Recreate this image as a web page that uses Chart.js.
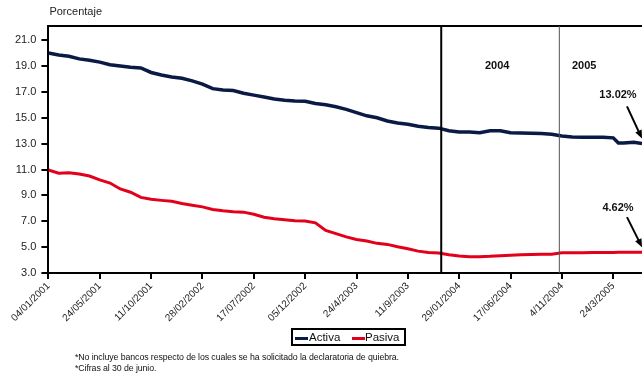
<!DOCTYPE html>
<html>
<head>
<meta charset="utf-8">
<script src="https://cdn.jsdelivr.net/npm/chart.js@4.4.1/dist/chart.umd.min.js"></script>
<style>
  html, body { margin: 0; padding: 0; background: #fff; }
  #wrap { position: relative; width: 642px; height: 375px; overflow: hidden; font-family: "Liberation Sans", Arial, sans-serif; }
  #chart { position: absolute; left: 0; top: 0; }
  .legend { position: absolute; left: 291px; top: 328px; width: 111px; height: 14px; border: 2px solid #000; font-size: 11.5px; color: #111; line-height: 14px; }
  .legend span { position: absolute; top: 0; }
  .legend i { position: absolute; top: 7px; height: 3px; width: 13px; }
  .notes { position: absolute; left: 75px; top: 352px; font-size: 8.8px; color: #111; line-height: 11px; letter-spacing: -0.1px; }
</style>
</head>
<body>
<div id="wrap">
  <canvas id="chart" width="642" height="375"></canvas>
  <div class="legend">
    <i style="left:2px;background:#0b1a45"></i><span style="left:16px">Activa</span>
    <i style="left:59px;background:#e3001b"></i><span style="left:72px">Pasiva</span>
  </div>
  <div class="notes">*No incluye bancos respecto de los cuales se ha solicitado la declaratoria de quiebra.<br>*Cifras al 30 de junio.</div>
</div>
<script>
// day index (100 = one label step) and rates
const dayIndex = [0, 20, 40, 60, 80, 100, 120, 140, 160, 180, 200, 220, 240, 260, 280, 300, 320, 340, 360, 380,
  400, 420, 440, 460, 480, 500, 520, 540, 560, 580, 600, 620, 640, 660, 680, 700, 720, 740, 760, 780,
  800, 820, 840, 860, 880, 900, 920, 940, 960, 980, 1000, 1020, 1040, 1060, 1080, 1100, 1110, 1120, 1140, 1156];

const activa = [20.0, 19.85, 19.75, 19.55, 19.45, 19.3, 19.1, 19.0, 18.9, 18.85, 18.5, 18.3, 18.15, 18.05, 17.85, 17.6, 17.25, 17.15, 17.1, 16.9,
  16.75, 16.6, 16.45, 16.35, 16.3, 16.27, 16.1, 16.0, 15.85, 15.65, 15.4, 15.15, 15.0, 14.75, 14.6, 14.5, 14.35, 14.25, 14.2, 14.0,
  13.9, 13.9, 13.85, 14.0, 14.0, 13.85, 13.82, 13.8, 13.78, 13.72, 13.6, 13.52, 13.5, 13.5, 13.5, 13.45, 13.05, 13.05, 13.1, 13.02];

const pasiva = [10.97, 10.72, 10.75, 10.65, 10.5, 10.2, 9.96, 9.5, 9.25, 8.85, 8.7, 8.62, 8.55, 8.38, 8.25, 8.12, 7.92, 7.81, 7.75, 7.71,
  7.55, 7.32, 7.2, 7.12, 7.05, 7.03, 6.88, 6.3, 6.05, 5.8, 5.6, 5.48, 5.3, 5.22, 5.04, 4.88, 4.7, 4.6, 4.56, 4.42,
  4.32, 4.27, 4.27, 4.3, 4.35, 4.38, 4.42, 4.44, 4.45, 4.45, 4.58, 4.58, 4.58, 4.6, 4.6, 4.6, 4.62, 4.62, 4.62, 4.62];

const dateLabels = ['04/01/2001', '24/05/2001', '11/10/2001', '28/02/2002', '17/07/2002', '05/12/2002',
  '24/4/2003', '11/9/2003', '29/01/2004', '17/06/2004', '4/11/2004', '24/3/2005'];

const yTicks = [3, 5, 7, 9, 11, 13, 15, 17, 19, 21];

const yearMarks = [{ label: '2004', at: 765, text: 874 }, { label: '2005', at: 995, text: 1045 }];
const endNotes = [{ label: '13.02%', value: 13.02 }, { label: '4.62%', value: 4.62 }];

const extras = {
  id: 'extras',
  afterDraw(chart) {
    const { ctx, chartArea: a, scales: { x, y } } = chart;
    ctx.save();
    // frame top
    ctx.strokeStyle = '#000';
    ctx.lineWidth = 2;
    ctx.beginPath();
    ctx.moveTo(a.left, a.top);
    ctx.lineTo(a.right, a.top);
    ctx.stroke();

    ctx.font = '11px "Liberation Sans", Arial, sans-serif';
    ctx.fillStyle = '#222';
    ctx.textAlign = 'left';
    ctx.textBaseline = 'middle';
    ctx.fillText('Porcentaje', a.left + 1, a.top - 14);

    // year separators
    yearMarks.forEach((m, i) => {
      const px = x.getPixelForValue(m.at);
      ctx.strokeStyle = i === 0 ? '#000' : '#555';
      ctx.lineWidth = i === 0 ? 2 : 1;
      ctx.beginPath();
      ctx.moveTo(px, a.top);
      ctx.lineTo(px, a.bottom);
      ctx.stroke();
      ctx.font = 'bold 11px "Liberation Sans", Arial, sans-serif';
      ctx.fillStyle = '#111';
      ctx.textAlign = i === 0 ? 'center' : 'left';
      ctx.fillText(m.label, x.getPixelForValue(m.text) - (i === 0 ? 0 : 13), y.getPixelForValue(19.0));
    });

    // end values with arrows
    endNotes.forEach((n, i) => {
      const ex = a.right;
      const ey = y.getPixelForValue(n.value) - 5;
      const sx = ex - 15;
      const sy = ey - (i === 0 ? 32 : 30);
      ctx.font = 'bold 11px "Liberation Sans", Arial, sans-serif';
      ctx.fillStyle = '#111';
      ctx.textAlign = 'center';
      ctx.fillText(n.label, sx - 9, sy - (i === 0 ? 11 : 9));
      ctx.strokeStyle = '#000';
      ctx.lineWidth = 2;
      ctx.beginPath();
      ctx.moveTo(sx, sy);
      ctx.lineTo(ex - 2, ey - 4);
      ctx.stroke();
      const ang = Math.atan2(ey - sy, ex - sx);
      ctx.beginPath();
      ctx.moveTo(ex, ey);
      ctx.lineTo(ex - 9 * Math.cos(ang - 0.4), ey - 9 * Math.sin(ang - 0.4));
      ctx.lineTo(ex - 9 * Math.cos(ang + 0.4), ey - 9 * Math.sin(ang + 0.4));
      ctx.closePath();
      ctx.fillStyle = '#000';
      ctx.fill();
    });
    ctx.restore();
  }
};

new Chart(document.getElementById('chart'), {
  type: 'line',
  data: {
    datasets: [
      {
        label: 'Activa',
        data: dayIndex.map((d, i) => ({ x: d, y: activa[i] })),
        borderColor: '#0b1a45',
        borderWidth: 3.5,
        pointRadius: 0,
        tension: 0
      },
      {
        label: 'Pasiva',
        data: dayIndex.map((d, i) => ({ x: d, y: pasiva[i] })),
        borderColor: '#e3001b',
        borderWidth: 3,
        pointRadius: 0,
        tension: 0
      }
    ]
  },
  options: {
    responsive: false,
    animation: false,
    layout: { padding: { left: 10, top: 26, right: 0, bottom: 50 } },
    plugins: { legend: { display: false }, tooltip: { enabled: false } },
    scales: {
      x: {
        type: 'linear',
        min: 0,
        max: 1156,
        afterBuildTicks: s => { s.ticks = dateLabels.map((_, i) => ({ value: i * 100 })); },
        ticks: {
          autoSkip: false,
          minRotation: 45,
          maxRotation: 45,
          padding: 1,
          color: '#222',
          font: { family: '"Liberation Sans", Arial, sans-serif', size: 10 },
          callback: v => dateLabels[Math.round(v / 100)]
        },
        grid: { drawOnChartArea: false, tickLength: 6, color: '#000', lineWidth: 2 },
        border: { color: '#000', width: 2 }
      },
      y: {
        min: 3,
        max: 22.09,
        afterBuildTicks: s => { s.ticks = yTicks.map(v => ({ value: v })); },
        ticks: {
          padding: 5,
          color: '#222',
          font: { family: '"Liberation Sans", Arial, sans-serif', size: 11 },
          callback: v => v.toFixed(1)
        },
        grid: { drawOnChartArea: false, tickLength: 7, color: '#000', lineWidth: 2 },
        border: { color: '#000', width: 2 }
      }
    }
  },
  plugins: [extras]
});
</script>
</body>
</html>
